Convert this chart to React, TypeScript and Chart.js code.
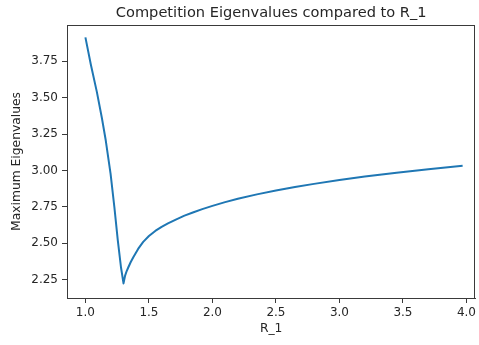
import React, { useEffect, useRef } from "react";
import { Chart, registerables } from "chart.js";

Chart.register(...registerables);

const rValues = [
  1.0, 1.043, 1.09, 1.13, 1.16, 1.198, 1.228, 1.255, 1.28, 1.3,
  1.3125, 1.325, 1.338, 1.357, 1.377, 1.415, 1.455, 1.5, 1.55, 1.6,
  1.65, 1.716, 1.78, 1.846, 1.92, 2.0, 2.1, 2.2, 2.35, 2.5,
  2.65, 2.8, 3.0, 3.2, 3.45, 3.7, 3.97,
];
const maxEigen = [
  3.913, 3.725, 3.539, 3.358, 3.207, 2.978, 2.749, 2.52, 2.336, 2.225,
  2.279, 2.31, 2.336, 2.372, 2.405, 2.462, 2.51, 2.55, 2.585, 2.613,
  2.637, 2.665, 2.69, 2.712, 2.735, 2.757, 2.783, 2.806, 2.836, 2.862,
  2.886, 2.908, 2.935, 2.959, 2.985, 3.009, 3.033,
];
const xTicks = [1.0, 1.5, 2.0, 2.5, 3.0, 3.5, 4.0];
const yTicks = [2.25, 2.5, 2.75, 3.0, 3.25, 3.5, 3.75];

const titleText = "Competition Eigenvalues compared to R_1";
const xLabel = "R_1";
const yLabel = "Maximum Eigenvalues";

const FONT = "'DejaVu Sans', sans-serif";
const TEXT = "#262626";
const AXIS = "#3a3a3a";

export default function App() {
  const ref = useRef<HTMLCanvasElement | null>(null);

  useEffect(() => {
    if (!ref.current) return;
    const framePlugin = {
      id: "frameTitle",
      afterDraw(chart: any) {
        const { ctx, chartArea } = chart;
        ctx.save();
        ctx.strokeStyle = AXIS;
        ctx.lineWidth = 1;
        ctx.strokeRect(
          Math.round(chartArea.left) + 0.5,
          Math.round(chartArea.top) + 0.5,
          Math.round(chartArea.right - chartArea.left) - 1,
          Math.round(chartArea.bottom - chartArea.top)
        );
        ctx.fillStyle = TEXT;
        ctx.font = `14.6px ${FONT}`;
        ctx.textAlign = "center";
        ctx.textBaseline = "middle";
        ctx.fillText(titleText, (chartArea.left + chartArea.right) / 2, 13.5);
        ctx.restore();
      },
    };

    const chart = new Chart(ref.current, {
      type: "line",
      data: {
        datasets: [
          {
            data: rValues.map((x, i) => ({ x, y: maxEigen[i] })),
            borderColor: "#1f77b4",
            borderWidth: 2,
            pointRadius: 0,
            tension: 0,
            fill: false,
            borderJoinStyle: "round",
          },
        ],
      },
      options: {
        responsive: false,
        animation: false,
        layout: { padding: { top: 25, right: 1, left: 0, bottom: 0 } },
        plugins: {
          legend: { display: false },
          tooltip: { enabled: false },
          title: { display: false },
        },
        scales: {
          x: {
            type: "linear",
            min: 0.855,
            max: 4.07,
            afterBuildTicks: (s: any) => {
              s.ticks = xTicks.map((v) => ({ value: v }));
            },
            afterFit: (s: any) => {
              s.height = 47;
            },
            ticks: {
              color: TEXT,
              font: { family: FONT, size: 12 },
              padding: 3,
              maxRotation: 0,
              autoSkip: false,
              callback: (v: any) => Number(v).toFixed(1),
            },
            grid: {
              drawOnChartArea: false,
              drawTicks: true,
              tickLength: 5,
              color: AXIS,
            },
            border: { display: true, color: AXIS },
            title: {
              display: true,
              text: xLabel,
              color: TEXT,
              font: { family: FONT, size: 12.3 },
              padding: { top: 0, bottom: 9 },
            },
          },
          y: {
            type: "linear",
            min: 2.125,
            max: 3.998,
            afterBuildTicks: (s: any) => {
              s.ticks = yTicks.map((v) => ({ value: v }));
            },
            afterFit: (s: any) => {
              s.width = 67;
            },
            ticks: {
              color: TEXT,
              font: { family: FONT, size: 12 },
              padding: 4,
              autoSkip: false,
              callback: (v: any) => Number(v).toFixed(2),
            },
            grid: {
              drawOnChartArea: false,
              drawTicks: true,
              tickLength: 5,
              color: AXIS,
            },
            border: { display: true, color: AXIS },
            title: {
              display: true,
              text: yLabel,
              color: TEXT,
              font: { family: FONT, size: 12.3 },
              padding: { top: 9, bottom: 0 },
            },
          },
        },
      },
      plugins: [framePlugin],
    } as any);
    return () => chart.destroy();
  }, []);

  return (
    <div style={{ position: "fixed", left: 0, top: 0, width: 479, height: 345, background: "#fff" }}>
      <canvas ref={ref} width={479} height={345} style={{ display: "block" }} />
    </div>
  );
}
